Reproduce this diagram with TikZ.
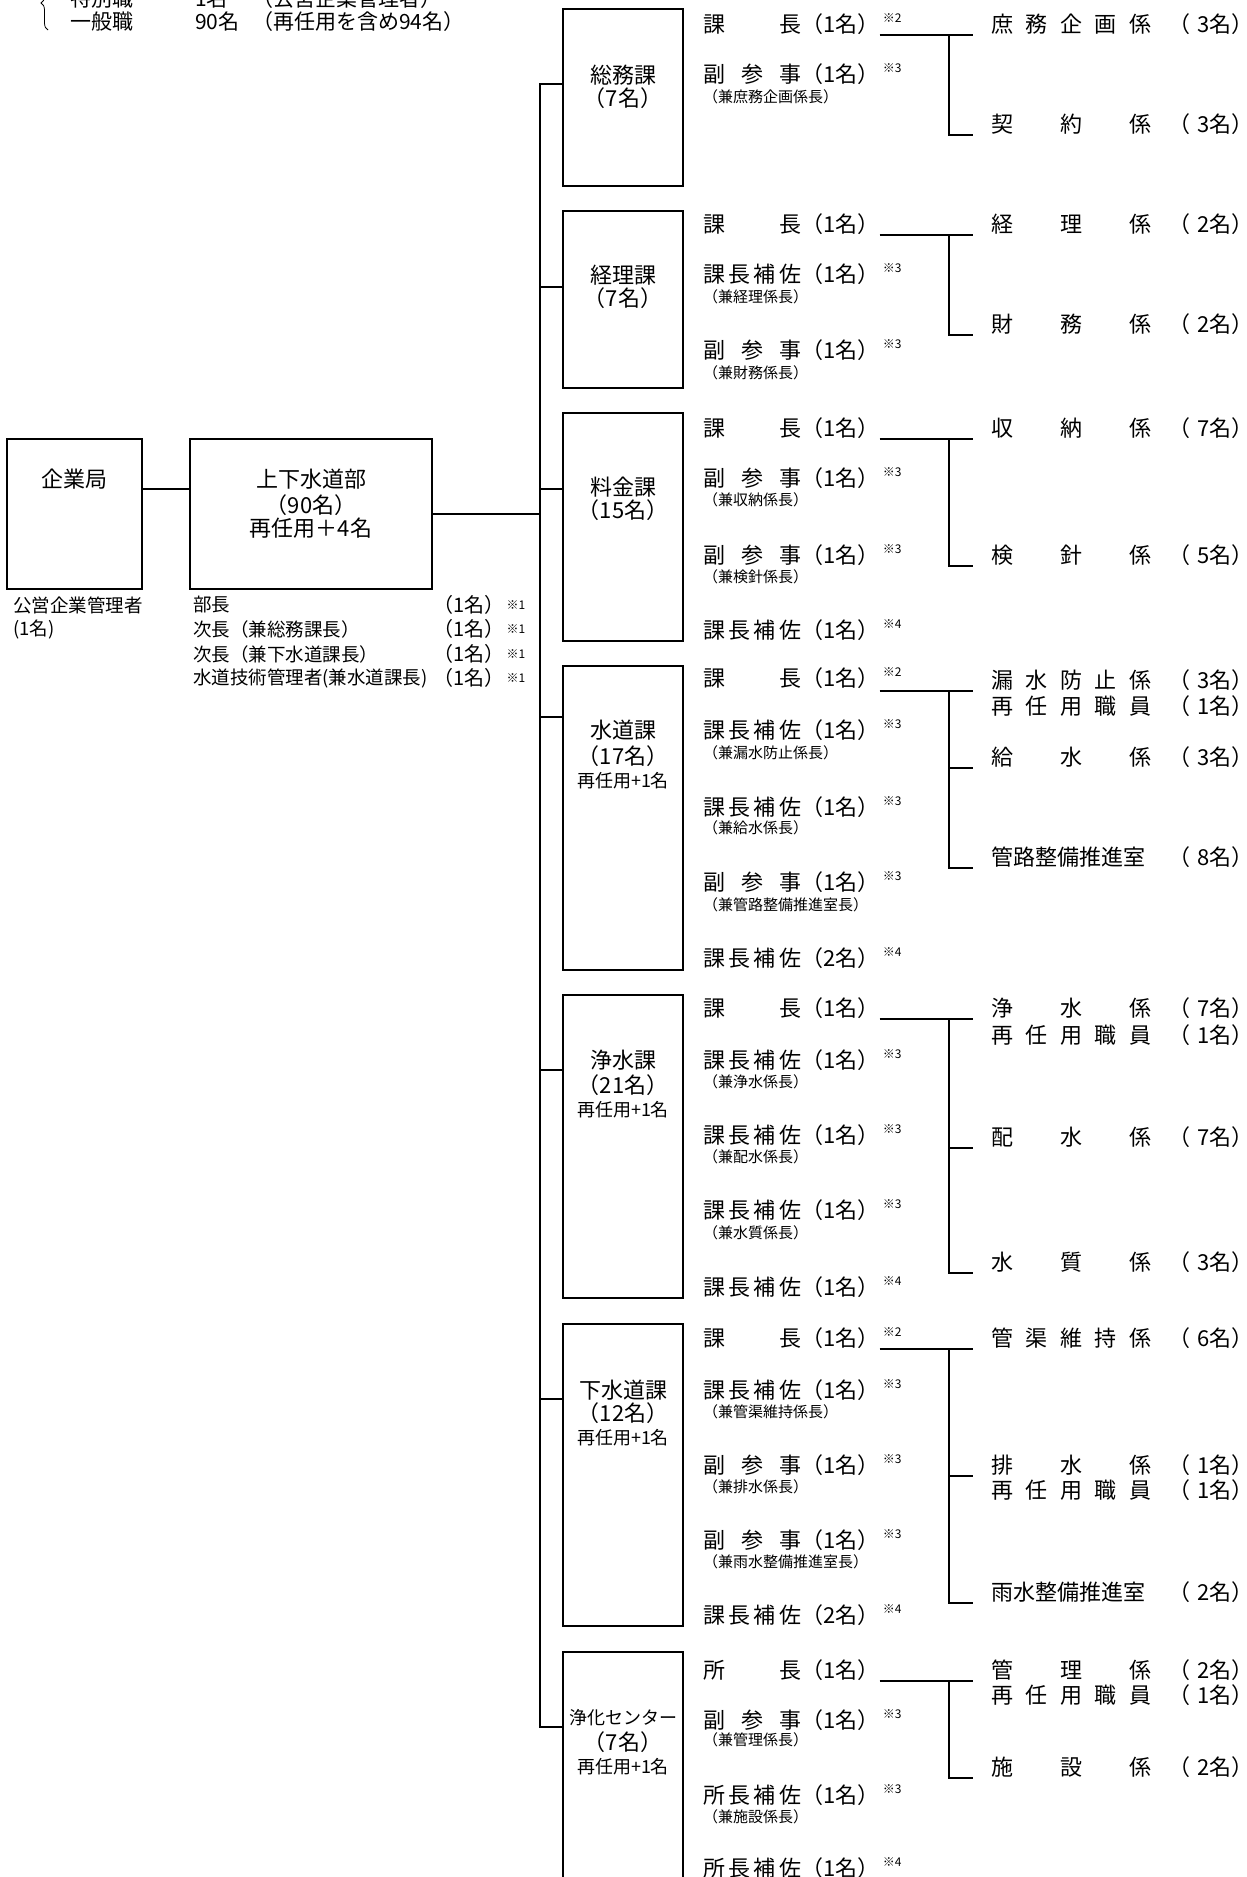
\documentclass[tikz,border=0pt]{standalone}
\usepackage{fontspec}
\setmainfont{Noto Sans CJK JP}
\usetikzlibrary{calc,decorations.pathreplacing}

% role names spread over a fixed width
\newcommand{\kacho}{\makebox[98pt]{課\hfill 長}}
\newcommand{\fukusanji}{\makebox[98pt]{副\hfill 参\hfill 事}}
\newcommand{\hosa}{\makebox[98pt]{課\hfill 長\hfill 補\hfill 佐}}
\newcommand{\shocho}{\makebox[98pt]{所\hfill 長}}
\newcommand{\shohosa}{\makebox[98pt]{所\hfill 長\hfill 補\hfill 佐}}
\newcommand{\nk}[1]{\makebox[160pt][l]{#1}}
\newcommand{\ninzu}[1]{\hspace{17pt}（\hspace{7pt}#1名）}

\begin{document}
\begin{tikzpicture}[x=1pt, y=-1pt,
    sen/.style={line width=2pt},
    unit/.style={draw, line width=2pt, inner sep=0pt, minimum width=120pt},
    unitname/.style={inner sep=0pt, font=\fontsize{22}{22}\selectfont},
    subname/.style={inner sep=0pt, font=\fontsize{18}{18}\selectfont},
    midashi/.style={anchor=west, inner sep=0pt, font=\fontsize{21}{21}\selectfont},
    bikou/.style={anchor=west, inner sep=0pt, font=\fontsize{18.5}{18.5}\selectfont},
    yaku/.style={anchor=west, inner sep=0pt, font=\fontsize{22}{22}\selectfont},
    ken/.style={anchor=west, inner sep=0pt, font=\fontsize{15}{15}\selectfont},
    kakari/.style={anchor=west, inner sep=0pt, font=\fontsize{22}{22}\selectfont},
    chu/.style={anchor=west, inner sep=0pt, font=\fontsize{12}{12}\selectfont}]

    \useasboundingbox (0,0) rectangle (1247,1877);
    \clip (0,0) rectangle (1247,1877);

% Cabecera
	\draw[decorate, decoration={brace, amplitude=7pt}, line width=0.8pt] (48,30) -- (48,-24);
	\node[midashi] (tokubetsu) at (70,-1) {特別職};
	\node[midashi] (tokubetsu-n) at (195,-1) {1名};
	\node[midashi] (tokubetsu-k) at (252,-1) {（公営企業管理者）};
	\node[midashi] (ippan) at (70,22) {一般職};
	\node[midashi] (ippan-n) at (195,22) {90名};
	\node[midashi] (ippan-k) at (252,22) {（再任用を含め94名）};

%企業局 y 上下水道部
	\node[unit, minimum width=135pt, minimum height=150pt] (kigyo) at (74.5,514) {};
	\node[unitname] (kigyo-t) at (74.5,479) {企業局};
	\node[unit, minimum width=242pt, minimum height=150pt] (bu) at (311,514) {};
	\foreach \y/\t [count=\i] in {479/上下水道部, 505/（90名）, 528/再任用＋4名}
		\node[unitname] (bu-t\i) at (311,\y) {\t};
	\draw[sen] (kigyo.east |- 0,489) -- (bu.west |- 0,489);

	\node[bikou] (kanri) at (13,605) {公営企業管理者};
	\node[bikou] (kanri-n) at (13,630) {(1名)};
	\foreach \y/\t [count=\i] in {605/部長, 629/次長（兼総務課長）, 654/次長（兼下水道課長）, 678/水道技術管理者(兼水道課長)}
	{
		\node[bikou] (bu-y\i) at (193,\y) {\t};
		\node[bikou, font=\fontsize{20}{20}\selectfont] (bu-n\i) at (433,\y) {（1名）};
		\node[chu] (bu-c\i) at ([xshift=2pt]bu-n\i.east) {※1};
	}

% Cajas de los cursos
	\foreach \s/\yc/\h in {soumu/97.5/177pt, keiri/299.5/177pt, ryokin/527/228pt,
		suido/818/304pt, jousui/1146.5/303pt, gesui/1475/302pt, center/1804/304pt}
		\node[unit, minimum height=\h] (\s) at (623,\yc) {};

	\foreach \y/\t [count=\i] in {75/総務課, 98/（7名）, 275/経理課, 298/（7名）,
		487/料金課, 510/（15名）, 730/水道課, 756/（17名）, 1060/浄水課, 1085/（21名）,
		1390/下水道課, 1413/（12名）, 1742/（7名）}
		\node[unitname] (kamei\i) at (623,\y) {\t};
	\node[subname] (kamei-c) at (623,1718) {浄化センター};
	\foreach \y [count=\i] in {781, 1110, 1438, 1767}
		\node[subname] (sai\i) at (623,\y) {再任用+1名};

% Linea principal
	\coordinate (t-top) at (540,84);
	\coordinate (t-bot) at (540,1727);
	\draw[sen] (bu.east) -- (bu.east -| t-top);
	\draw[sen] (soumu.west |- t-top) -- (t-top) -- (t-bot) -- (center.west |- t-bot);
	\foreach \s/\y in {keiri/287, ryokin/489, suido/717, jousui/1070, gesui/1399}
		\draw[sen] (540,\y) -- (\s.west |- 0,\y);

% 総務課
	\foreach \i/\y/\t in {1/24/\kacho（1名）, 2/74/\fukusanji（1名）}
		\node[yaku] (soumu-y\i) at (703,\y) {\t};
	\foreach \i/\y/\t in {2/97/庶務企画係長}
		\node[ken] (soumu-k\i) at (703,\y) {（兼\t）};
	\foreach \i/\y/\t/\n in {1/24/庶\hfill 務\hfill 企\hfill 画\hfill 係/3, 2/124/契\hfill 約\hfill 係/3}
		\node[kakari] (soumu-r\i) at (991,\y) {\nk{\t}\ninzu{\n}};

% 経理課
	\foreach \i/\y/\t in {1/224/\kacho（1名）, 2/274/\hosa（1名）, 3/350/\fukusanji（1名）}
		\node[yaku] (keiri-y\i) at (703,\y) {\t};
	\foreach \i/\y/\t in {2/297/経理係長, 3/373/財務係長}
		\node[ken] (keiri-k\i) at (703,\y) {（兼\t）};
	\foreach \i/\y/\t/\n in {1/224/経\hfill 理\hfill 係/2, 2/324/財\hfill 務\hfill 係/2}
		\node[kakari] (keiri-r\i) at (991,\y) {\nk{\t}\ninzu{\n}};

% 料金課
	\foreach \i/\y/\t in {1/428/\kacho（1名）, 2/478/\fukusanji（1名）, 3/555/\fukusanji（1名）, 4/630/\hosa（1名）}
		\node[yaku] (ryokin-y\i) at (703,\y) {\t};
	\foreach \i/\y/\t in {2/500/収納係長, 3/577/検針係長}
		\node[ken] (ryokin-k\i) at (703,\y) {（兼\t）};
	\foreach \i/\y/\t/\n in {1/428/収\hfill 納\hfill 係/7, 2/555/検\hfill 針\hfill 係/5}
		\node[kakari] (ryokin-r\i) at (991,\y) {\nk{\t}\ninzu{\n}};

% 水道課
	\foreach \i/\y/\t in {1/678/\kacho（1名）, 2/730/\hosa（1名）, 3/807/\hosa（1名）, 4/882/\fukusanji（1名）, 5/958/\hosa（2名）}
		\node[yaku] (suido-y\i) at (703,\y) {\t};
	\foreach \i/\y/\t in {2/753/漏水防止係長, 3/828/給水係長, 4/905/管路整備推進室長}
		\node[ken] (suido-k\i) at (703,\y) {（兼\t）};
	\foreach \i/\y/\t/\n in {1/680/漏\hfill 水\hfill 防\hfill 止\hfill 係/3, 2/757/給\hfill 水\hfill 係/3, 3/857/管路整備推進室/8}
		\node[kakari] (suido-r\i) at (991,\y) {\nk{\t}\ninzu{\n}};

% 浄水課
	\foreach \i/\y/\t in {1/1008/\kacho（1名）, 2/1060/\hosa（1名）, 3/1135/\hosa（1名）, 4/1210/\hosa（1名）, 5/1287/\hosa（1名）}
		\node[yaku] (jousui-y\i) at (703,\y) {\t};
	\foreach \i/\y/\t in {2/1082/浄水係長, 3/1157/配水係長, 4/1233/水質係長}
		\node[ken] (jousui-k\i) at (703,\y) {（兼\t）};
	\foreach \i/\y/\t/\n in {1/1008/浄\hfill 水\hfill 係/7, 2/1137/配\hfill 水\hfill 係/7, 3/1262/水\hfill 質\hfill 係/3}
		\node[kakari] (jousui-r\i) at (991,\y) {\nk{\t}\ninzu{\n}};

% 下水道課
	\foreach \i/\y/\t in {1/1338/\kacho（1名）, 2/1390/\hosa（1名）, 3/1465/\fukusanji（1名）, 4/1540/\fukusanji（1名）, 5/1615/\hosa（2名）}
		\node[yaku] (gesui-y\i) at (703,\y) {\t};
	\foreach \i/\y/\t in {2/1412/管渠維持係長, 3/1487/排水係長, 4/1562/雨水整備推進室長}
		\node[ken] (gesui-k\i) at (703,\y) {（兼\t）};
	\foreach \i/\y/\t/\n in {1/1338/管\hfill 渠\hfill 維\hfill 持\hfill 係/6, 2/1465/排\hfill 水\hfill 係/1, 3/1592/雨水整備推進室/2}
		\node[kakari] (gesui-r\i) at (991,\y) {\nk{\t}\ninzu{\n}};

% 浄化センター
	\foreach \i/\y/\t in {1/1670/\shocho（1名）, 2/1720/\fukusanji（1名）, 3/1795/\shohosa（1名）, 4/1868/\shohosa（1名）}
		\node[yaku] (center-y\i) at (703,\y) {\t};
	\foreach \i/\y/\t in {2/1740/管理係長, 3/1817/施設係長}
		\node[ken] (center-k\i) at (703,\y) {（兼\t）};
	\foreach \i/\y/\t/\n in {1/1670/管\hfill 理\hfill 係/2, 2/1767/施\hfill 設\hfill 係/2}
		\node[kakari] (center-r\i) at (991,\y) {\nk{\t}\ninzu{\n}};

% 再任用職員
	\foreach \s/\y in {suido/706, jousui/1035, gesui/1490, center/1695}
		\node[kakari] (\s-sai) at (991,\y) {\nk{再\hfill 任\hfill 用\hfill 職\hfill 員}\ninzu{1}};

% Notas
	\foreach \n/\c in {soumu-y1/2, soumu-y2/3, keiri-y2/3, keiri-y3/3,
		ryokin-y2/3, ryokin-y3/3, ryokin-y4/4,
		suido-y1/2, suido-y2/3, suido-y3/3, suido-y4/3, suido-y5/4,
		jousui-y2/3, jousui-y3/3, jousui-y4/3, jousui-y5/4,
		gesui-y1/2, gesui-y2/3, gesui-y3/3, gesui-y4/3, gesui-y5/4,
		center-y2/3, center-y3/3, center-y4/4}
		\node[chu] (\n-c) at ([shift={(3pt,6pt)}]\n.east) {※\c};

% Corchetes de los kakari
	\foreach \s/\m in {soumu/2, keiri/2, ryokin/2, suido/3, jousui/3, gesui/3, center/2}
	{
		\foreach \i in {1,...,\m}
			\coordinate (\s-l\i) at ($(\s-r\i.west)+(-18,11)$);
		\draw[sen] (\s-y1.east |- \s-l1) -- (\s-l1);
		\draw[sen] ($(\s-l1)+(-24,0)$) |- (\s-l\m);
		\ifnum\m=3 \draw[sen] ($(\s-l2)+(-24,0)$) -- (\s-l2);\fi
	}
\end{tikzpicture}
\end{document}
